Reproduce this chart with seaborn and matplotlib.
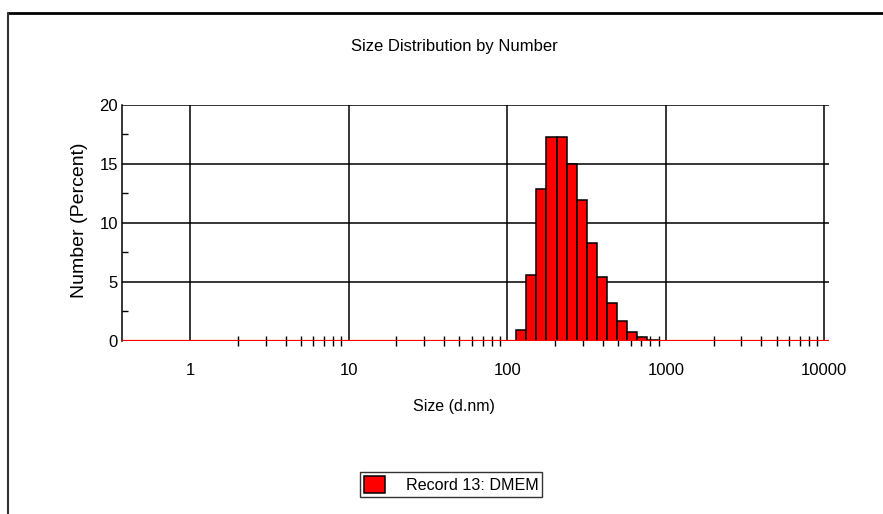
import numpy as np
import pandas as pd
import matplotlib
matplotlib.use("Agg")
import matplotlib.pyplot as plt
from matplotlib.lines import Line2D
from matplotlib.ticker import FixedLocator, NullFormatter, FixedFormatter
import seaborn as sns

# Size classes (d.nm) with non-zero number percentages for record 13
sizes = [122.4, 141.8, 164.2, 190.1, 220.2, 255.0, 295.3, 342.0,
         396.1, 458.7, 531.2, 615.1, 712.4, 825.0]
number_pct = [0.9, 5.6, 12.9, 17.3, 17.3, 15.0, 11.9, 8.3,
              5.4, 3.2, 1.7, 0.7, 0.3, 0.1]

x_ticks = [1, 10, 100, 1000, 10000]
x_tick_labels = ["1", "10", "100", "1000", "10000"]
y_ticks = [0, 5, 10, 15, 20]
y_tick_labels = ["0", "5", "10", "15", "20"]

title = "Size Distribution by Number"
x_label = "Size (d.nm)"
y_label = "Number (Percent)"
legend_label = "Record 13: DMEM"

df = pd.DataFrame({"size": sizes, "pct": number_pct})

sns.set_style("white")
plt.rcParams["font.family"] = ["Liberation Sans", "DejaVu Sans"]
plt.rcParams.update({"text.color": "black", "axes.labelcolor": "black",
                     "xtick.color": "black", "ytick.color": "black"})

W, H = 883, 514
fig = plt.figure(figsize=(W / 100, H / 100), dpi=100)
ax = fig.add_axes([122 / W, 1 - 340.7 / H, (829 - 122) / W, (340.7 - 105) / H])

# Bin edges in log10 space: geometric midpoints between neighbouring classes
log_c = np.log10(sizes)
step = np.diff(log_c).mean()
log_edges = [float(v) for v in
             np.concatenate([[log_c[0] - step / 2], log_c + step / 2])]

sns.histplot(data=df, x="size", weights="pct", bins=log_edges,
             log_scale=True, color="#ff0000", edgecolor="black",
             linewidth=1.1, alpha=1.0, ax=ax, zorder=3,
             label=legend_label)

ax.set_xlim(0.372, 10700)
ax.set_ylim(0, 20)

# zero baseline of the record
ax.axhline(0, color="#ff0000", lw=1.6, zorder=4)

ax.xaxis.set_major_locator(FixedLocator(x_ticks))
ax.xaxis.set_major_formatter(FixedFormatter(x_tick_labels))
minor_x = [m * 10.0 ** d for d in range(0, 4) for m in range(2, 10)]
ax.xaxis.set_minor_locator(FixedLocator(minor_x))
ax.xaxis.set_minor_formatter(NullFormatter())

ax.yaxis.set_major_locator(FixedLocator(y_ticks))
ax.yaxis.set_major_formatter(FixedFormatter(y_tick_labels))
ax.yaxis.set_minor_locator(FixedLocator([2.5, 7.5, 12.5, 17.5]))

ax.grid(True, which="major", color="black", lw=1.1, zorder=0)
ax.set_axisbelow(True)

for s in ["top", "right", "bottom"]:
    ax.spines[s].set_visible(False)
ax.spines["left"].set_color("black")
ax.spines["left"].set_linewidth(1.1)

ax.tick_params(axis="x", which="major", direction="inout", length=6,
               width=1.0, color="black", labelsize=12, pad=13)
ax.tick_params(axis="x", which="minor", direction="inout", length=7,
               width=1.0, color="black", bottom=True)
ax.tick_params(axis="y", which="major", direction="out", length=2,
               width=1.0, color="black", labelsize=12, pad=1)
ax.tick_params(axis="y", which="minor", direction="in", length=4,
               width=1.0, color="black", left=True)

# Axis labels, centred on the page rather than on the axes
ax.set_xlabel(x_label, fontsize=11.5)
ax.xaxis.set_label_coords(454 / W, 1 - 407 / H, transform=fig.transFigure)
ax.xaxis.label.set_va("center")
ax.set_ylabel(y_label, fontsize=14)
ax.yaxis.set_label_coords(80 / W, 1 - 220 / H, transform=fig.transFigure)
ax.yaxis.label.set_va("center")

fig.text(454 / W, 1 - 47 / H, title, fontsize=12, ha="center", va="center")

leg = ax.legend(loc="center", bbox_to_anchor=(451 / W, 1 - 484.5 / H),
                bbox_transform=fig.transFigure, frameon=True,
                fontsize=11.6, handlelength=1.3, handleheight=1.3,
                fancybox=False, borderpad=0.25, handletextpad=1.3,
                borderaxespad=0)
leg.get_frame().set_edgecolor("black")
leg.get_frame().set_linewidth(1.0)

# page frame lines
fig.add_artist(Line2D([8 / W, 1.0], [1 - 13 / H, 1 - 13 / H],
                      transform=fig.transFigure, color="black", lw=2))
fig.add_artist(Line2D([8 / W, 8 / W], [0, 1 - 13 / H],
                      transform=fig.transFigure, color="#333333", lw=1.5))

fig.savefig("out.png", dpi=100)
